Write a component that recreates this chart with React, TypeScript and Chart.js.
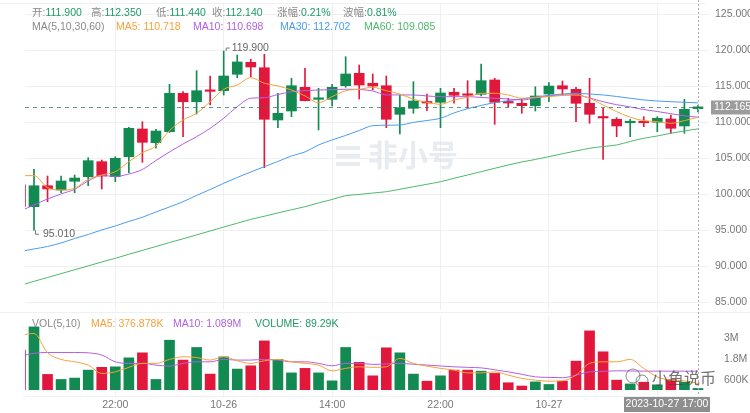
import React, { useEffect, useRef } from "react";
import { Chart, registerables } from "chart.js";

Chart.register(...registerables);

// ---------- data ----------
const OPEN = [101.3, 98.28, 101.19, 100.6, 101.81, 102.44, 104.53, 102.44, 105.22, 109.07, 107.17, 108.69, 114.03, 112.86, 114.44, 114.39, 116.67, 118.33, 117.58, 110.32, 111.57, 114.86, 113.19, 113.19, 115.08, 116.81, 115.42, 115.08, 111.11, 111.94, 112.86, 112.78, 114.17, 113.93, 113.89, 115.88, 112.86, 112.64, 112.31, 113.93, 115.08, 114.58, 112.64, 110.69, 110.42, 109.94, 110.08, 110.0, 110.46, 109.49, 111.9];
const HIGH = [101.6, 103.47, 102.54, 102.54, 102.68, 105.08, 104.76, 105.22, 109.3, 110.08, 109.03, 115.28, 114.25, 117.17, 116.43, 119.9, 119.35, 118.75, 119.44, 114.03, 116.11, 117.5, 114.72, 115.28, 119.11, 117.96, 116.71, 116.43, 113.79, 115.64, 113.93, 114.72, 114.72, 115.78, 118.1, 116.11, 113.33, 113.24, 114.94, 115.5, 115.74, 114.86, 116.11, 111.94, 110.64, 110.42, 110.78, 110.78, 111.01, 113.19, 112.35];
const LOW = [98.0, 95.01, 98.97, 100.22, 100.22, 101.19, 100.74, 101.75, 103.0, 104.44, 106.39, 108.6, 108.0, 111.15, 112.4, 113.79, 116.19, 116.33, 103.69, 109.25, 110.78, 112.96, 108.93, 112.26, 114.86, 113.24, 114.49, 109.25, 108.38, 111.25, 111.61, 109.25, 112.64, 111.94, 113.65, 109.72, 112.17, 111.25, 111.57, 112.86, 113.79, 110.08, 109.86, 104.86, 108.0, 108.0, 109.39, 108.69, 108.47, 108.47, 111.44];
const CLOSE = [98.3, 101.19, 100.74, 101.85, 102.26, 104.67, 102.54, 105.0, 109.17, 107.22, 108.79, 114.03, 112.86, 114.39, 114.3, 116.43, 118.38, 117.68, 110.42, 111.25, 115.08, 113.0, 113.33, 114.86, 116.71, 115.18, 115.04, 110.42, 112.03, 112.96, 112.68, 114.07, 113.75, 113.75, 115.78, 112.78, 112.68, 112.31, 113.65, 115.04, 114.63, 112.64, 111.11, 110.6, 109.49, 110.08, 109.94, 110.56, 109.17, 111.81, 112.14];

const MA5 = [102.59, 102.59, 100.92, 100.6, 100.84, 102.09, 102.68, 103.14, 104.53, 105.78, 106.71, 108.84, 110.32, 111.25, 112.86, 114.59, 115.18, 116.2, 115.42, 115.05, 114.49, 113.66, 112.73, 113.56, 114.39, 114.59, 114.86, 114.39, 113.93, 113.2, 112.78, 112.5, 113.1, 113.48, 114.03, 114.03, 113.8, 113.34, 113.45, 113.56, 113.73, 113.8, 113.34, 112.41, 111.48, 110.7, 110.23, 110.09, 109.86, 110.23, 110.718];
const MA10 = [97.68, 98.52, 99.35, 100.05, 100.7, 101.85, 102.61, 102.48, 102.82, 103.45, 104.7, 105.88, 106.99, 108.0, 109.17, 110.56, 112.17, 113.34, 113.42, 113.86, 114.25, 114.39, 114.49, 114.53, 114.59, 114.56, 114.35, 113.8, 113.8, 113.8, 113.66, 113.56, 113.56, 113.56, 113.45, 113.34, 113.24, 113.1, 113.38, 113.66, 113.8, 113.8, 113.38, 112.86, 112.45, 112.13, 111.78, 111.5, 111.19, 110.9, 110.698];
const MA30 = [92.06, 92.41, 92.75, 93.24, 93.86, 94.42, 95.05, 95.6, 96.23, 96.81, 97.55, 98.24, 98.98, 99.84, 100.67, 101.53, 102.34, 103.1, 103.84, 104.56, 105.32, 105.88, 106.85, 107.55, 108.17, 108.86, 109.53, 109.59, 109.63, 109.98, 110.25, 110.56, 111.3, 111.89, 112.34, 112.73, 113.0, 113.24, 113.52, 113.75, 113.93, 114.03, 113.93, 113.8, 113.59, 113.34, 113.1, 112.96, 112.86, 112.78, 112.702];
const MA60 = [87.36, 87.91, 88.45, 88.98, 89.52, 90.05, 90.6, 91.11, 91.67, 92.21, 92.75, 93.3, 93.82, 94.36, 94.91, 95.45, 95.98, 96.52, 96.95, 97.41, 97.85, 98.28, 98.8, 99.28, 99.81, 99.98, 100.18, 100.36, 100.7, 101.05, 101.39, 101.75, 102.23, 102.68, 103.14, 103.61, 104.07, 104.49, 104.84, 105.23, 105.63, 106.02, 106.39, 106.64, 106.85, 107.34, 107.78, 108.1, 108.48, 108.8, 109.085];

// volume in millions
const VOLUME = [2.31, 3.65, 0.9, 0.61, 0.69, 1.15, 1.31, 1.34, 1.86, 2.15, 0.61, 2.88, 1.73, 2.46, 0.92, 1.92, 1.21, 1.4, 2.84, 1.77, 0.99, 1.25, 0.99, 0.53, 2.46, 1.6, 0.82, 2.44, 2.15, 0.92, 0.51, 0.82, 1.15, 1.15, 1.09, 0.96, 0.42, 0.23, 0.47, 0.32, 0.51, 1.67, 3.42, 2.21, 0.57, 0.35, 0.45, 0.3, 0.6, 0.45, 0.08929];
const VOL_MA5 = [3.17, 3.27, 2.15, 1.77, 1.63, 1.44, 0.96, 1.05, 1.31, 1.54, 1.54, 1.77, 1.92, 1.88, 1.73, 1.92, 1.69, 1.54, 1.69, 1.77, 1.63, 1.54, 1.44, 1.11, 1.25, 1.34, 1.31, 1.34, 1.83, 1.54, 1.38, 1.25, 1.15, 0.99, 0.99, 1.05, 0.86, 0.67, 0.57, 0.51, 0.53, 0.86, 1.54, 1.63, 1.63, 1.77, 1.25, 0.76, 0.57, 0.53, 0.376878];
const VOL_MA10 = [1.96, 2.12, 2.17, 2.17, 2.17, 2.15, 2.02, 1.63, 1.54, 1.54, 1.44, 1.38, 1.54, 1.63, 1.63, 1.77, 1.73, 1.73, 1.77, 1.73, 1.63, 1.63, 1.54, 1.4, 1.54, 1.54, 1.48, 1.51, 1.54, 1.49, 1.44, 1.39, 1.34, 1.31, 1.28, 1.17, 1.05, 0.91, 0.76, 0.73, 0.71, 0.86, 1.05, 1.08, 1.11, 1.1, 1.09, 1.09, 1.09, 1.09, 1.089];

const X_TICK_INDEX = [7, 15, 23, 31, 39, 47];
const X_TICK_LABELS = ["22:00", "10-26", "14:00", "22:00", "10-27", "14:00"];
const PRICE_TICKS = [85, 90, 95, 100, 105, 110, 115, 120, 125];
const VOL_TICKS = [0.6, 1.8, 3];
const VOL_TICK_LABELS = ["600K", "1.8M", "3M"];
const LAST_PRICE = 112.165;
const CROSS_INDEX = 50;
const CROSS_LABEL = "2023-10-27 17:00";
const MAX_INDEX = 15;
const MIN_INDEX = 1;

// ---------- styles ----------
const UP = "#128a52";
const DOWN = "#e2173c";
const C_MA5 = "#f5a33a";
const C_MA10 = "#b15fe3";
const C_MA30 = "#4a9cf0";
const C_MA60 = "#4fb96a";
const GRID = "#eef0f3";
const TICK_COLOR = "#777";
const FONT = "'Liberation Sans', 'Noto Sans CJK SC', sans-serif";
const FS = 10.5;
const X_MIN = 0.336;
const X_MAX = 50.52;

const idx = CLOSE.map((_, i) => i);
const colors = CLOSE.map((c, i) => (c >= OPEN[i] ? UP : DOWN));

function lineDs(label: string, data: number[], color: string) {
  return {
    type: "line" as const,
    label,
    data: data.map((v, i) => ({ x: i, y: v })),
    borderColor: color,
    borderWidth: 1,
    pointRadius: 0,
    cubicInterpolationMode: "monotone" as const,
    order: 0,
  };
}

const xScaleBase = (showLabels: boolean) => ({
  type: "linear" as const,
  min: X_MIN,
  max: X_MAX,
  offset: false,
  afterBuildTicks: (s: any) => {
    s.ticks = X_TICK_INDEX.map((v) => ({ value: v }));
  },
  afterFit: (s: any) => {
    s.height = showLabels ? 23 : 0;
    s.paddingLeft = 0;
    s.paddingRight = 0;
  },
  border: { display: false },
  grid: {
    color: GRID,
    offset: false,
    drawTicks: showLabels,
    tickLength: 6,
  },
  ticks: {
    display: showLabels,
    autoSkip: false,
    maxRotation: 0,
    padding: 3,
    color: TICK_COLOR,
    font: { family: FONT, size: FS },
    callback: (v: number) => {
      const k = X_TICK_INDEX.indexOf(v);
      return k >= 0 ? X_TICK_LABELS[k] : "";
    },
  },
});

const pricePlugin = {
  id: "priceExtras",
  beforeDatasetsDraw(chart: any) {
    const { ctx, chartArea } = chart;
    ctx.save();
    ctx.strokeStyle = GRID;
    ctx.lineWidth = 1;
    ctx.beginPath();
    ctx.moveTo(0, chartArea.top + 0.5);
    ctx.lineTo(chartArea.right, chartArea.top + 0.5);
    ctx.stroke();
    // watermark
    ctx.fillStyle = "rgba(205,212,224,0.45)";
    const wx = 336, wy = 156;
    for (let k = 0; k < 3; k++) {
      ctx.fillRect(wx, wy - 10 + k * 8, 24, 4);
    }
    ctx.font = "bold 30px 'Noto Sans CJK SC'";
    ctx.textBaseline = "middle";
    ctx.fillText("非小号", wx + 32, wy - 1);
    ctx.restore();
  },
  afterDatasetsDraw(chart: any) {
    const { ctx, chartArea, scales } = chart;
    const x = scales.x, y = scales.y;
    ctx.save();
    const py = Math.round(y.getPixelForValue(LAST_PRICE)) + 0.5;
    ctx.strokeStyle = "rgba(40,120,85,0.75)";
    ctx.setLineDash([4, 4]);
    ctx.lineWidth = 1;
    ctx.beginPath();
    ctx.moveTo(chartArea.left, py);
    ctx.lineTo(chartArea.right, py);
    ctx.stroke();
    const cx = Math.round(x.getPixelForValue(CROSS_INDEX)) + 0.5;
    ctx.strokeStyle = "#aaa";
    ctx.setLineDash([2, 2]);
    ctx.beginPath();
    ctx.moveTo(cx, 0);
    ctx.lineTo(cx, chart.height);
    ctx.stroke();
    ctx.setLineDash([]);
    ctx.strokeStyle = "#777";
    ctx.fillStyle = "#666";
    ctx.font = `${FS}px ${FONT}`;
    ctx.textBaseline = "middle";
    const hx = x.getPixelForValue(MAX_INDEX), hy = y.getPixelForValue(HIGH[MAX_INDEX]);
    ctx.beginPath();
    ctx.moveTo(hx + 2.5, hy);
    ctx.lineTo(hx + 2.5, hy - 3);
    ctx.lineTo(hx + 6, hy - 3);
    ctx.stroke();
    ctx.fillText(HIGH[MAX_INDEX].toFixed(3), hx + 8, hy - 3);
    const lx = x.getPixelForValue(MIN_INDEX), ly = y.getPixelForValue(LOW[MIN_INDEX]);
    ctx.beginPath();
    ctx.moveTo(lx + 1.5, ly);
    ctx.lineTo(lx + 1.5, ly + 4);
    ctx.lineTo(lx + 5, ly + 4);
    ctx.stroke();
    ctx.fillText(LOW[MIN_INDEX].toFixed(3), lx + 9, ly + 4);
    ctx.fillStyle = "#9c9c9c";
    ctx.fillRect(chartArea.right + 6, py - 7, chart.width - chartArea.right - 6, 14);
    ctx.fillStyle = "#fff";
    ctx.textAlign = "left";
    ctx.fillText(LAST_PRICE.toFixed(3), chartArea.right + 9, py);
    ctx.restore();
  },
};

const volPlugin = {
  id: "volExtras",
  afterDatasetsDraw(chart: any) {
    const { ctx, chartArea, scales } = chart;
    const x = scales.x;
    ctx.save();
    ctx.strokeStyle = GRID;
    ctx.lineWidth = 1;
    ctx.beginPath();
    ctx.moveTo(0, 0.5);
    ctx.lineTo(chart.width, 0.5);
    ctx.moveTo(chartArea.left, chartArea.bottom + 6.5);
    ctx.lineTo(chartArea.right, chartArea.bottom + 6.5);
    ctx.stroke();
    const cx = Math.round(x.getPixelForValue(CROSS_INDEX)) + 0.5;
    ctx.strokeStyle = "#aaa";
    ctx.setLineDash([2, 2]);
    ctx.beginPath();
    ctx.moveTo(cx, 0);
    ctx.lineTo(cx, chartArea.bottom + 6);
    ctx.stroke();
    ctx.setLineDash([]);
    ctx.font = "16px 'Noto Sans CJK SC'";
    ctx.fillStyle = "rgba(70,70,70,0.75)";
    ctx.textBaseline = "middle";
    ctx.fillText("小鱼说币", 652, chartArea.bottom - 12);
    ctx.strokeStyle = "rgba(90,90,90,0.7)";
    ctx.beginPath();
    ctx.arc(633, chartArea.bottom - 14, 7, 0, Math.PI * 2);
    ctx.stroke();
    ctx.beginPath();
    ctx.arc(642, chartArea.bottom - 9, 6, 0, Math.PI * 2);
    ctx.stroke();
    ctx.font = `${FS}px ${FONT}`;
    const w = 86;
    const right = chartArea.right + 5;
    const left = Math.min(cx - w / 2, right - w);
    ctx.fillStyle = "#8e8e8e";
    ctx.fillRect(left, chartArea.bottom + 7, w, 15);
    ctx.fillStyle = "#fff";
    ctx.textAlign = "center";
    ctx.fillText(CROSS_LABEL, left + w / 2, chartArea.bottom + 14.5);
    ctx.restore();
  },
};

const commonOpts = {
  responsive: false,
  animation: false as const,
  devicePixelRatio: 1,
  events: [] as any[],
  plugins: { legend: { display: false }, tooltip: { enabled: false } },
};

function Txt(props: { x: number; y: number; color: string; children: React.ReactNode }) {
  return (
    <span
      style={{
        position: "absolute",
        left: props.x,
        top: props.y,
        color: props.color,
        fontSize: FS,
        lineHeight: "14px",
        whiteSpace: "nowrap",
        fontFamily: FONT,
      }}
    >
      {props.children}
    </span>
  );
}

export default function App() {
  const priceRef = useRef<HTMLCanvasElement>(null);
  const volRef = useRef<HTMLCanvasElement>(null);

  useEffect(() => {
    const price = new Chart(priceRef.current as HTMLCanvasElement, {
      type: "bar",
      data: {
        datasets: [
          lineDs("MA5", MA5, C_MA5),
          lineDs("MA10", MA10, C_MA10),
          lineDs("MA30", MA30, C_MA30),
          lineDs("MA60", MA60, C_MA60),
          {
            type: "bar",
            label: "body",
            data: idx.map((i) => ({ x: i, y: [OPEN[i], CLOSE[i]] })) as any,
            backgroundColor: colors,
            barThickness: 10,
            minBarLength: 1.5,
            grouped: false,
            order: 1,
          },
          {
            type: "bar",
            label: "wick",
            data: idx.map((i) => ({ x: i, y: [LOW[i], HIGH[i]] })) as any,
            backgroundColor: colors,
            barThickness: 1,
            grouped: false,
            order: 2,
          },
        ] as any,
      },
      options: {
        ...commonOpts,
        layout: { padding: { left: 25, top: 3, bottom: 2, right: 0 } },
        scales: {
          x: xScaleBase(false) as any,
          y: {
            type: "linear",
            position: "right",
            min: 83.93,
            max: 126.57,
            afterBuildTicks: (s: any) => {
              s.ticks = PRICE_TICKS.map((v) => ({ value: v }));
            },
            afterFit: (s: any) => {
              s.width = 45;
              s.paddingTop = 0;
              s.paddingBottom = 0;
            },
            border: { display: false },
            grid: { color: GRID, drawTicks: true, tickLength: 4 },
            ticks: {
              padding: 6,
              color: TICK_COLOR,
              font: { family: FONT, size: FS },
              callback: (v: any) => Number(v).toFixed(3),
            },
          },
        },
      } as any,
      plugins: [pricePlugin],
    });

    const vol = new Chart(volRef.current as HTMLCanvasElement, {
      type: "bar",
      data: {
        datasets: [
          lineDs("VMA5", VOL_MA5, C_MA5),
          lineDs("VMA10", VOL_MA10, C_MA10),
          {
            type: "bar",
            label: "volume",
            data: idx.map((i) => ({ x: i, y: VOLUME[i] })) as any,
            backgroundColor: colors,
            barThickness: 10,
            grouped: false,
            order: 1,
          },
        ] as any,
      },
      options: {
        ...commonOpts,
        layout: { padding: { left: 25, top: 4, bottom: 0, right: 0 } },
        scales: {
          x: xScaleBase(true) as any,
          y: {
            type: "linear",
            position: "right",
            min: 0,
            max: 4.28,
            afterBuildTicks: (s: any) => {
              s.ticks = VOL_TICKS.map((v) => ({ value: v }));
            },
            afterFit: (s: any) => {
              s.width = 45;
              s.paddingTop = 0;
              s.paddingBottom = 0;
            },
            border: { display: false },
            grid: { display: false },
            ticks: {
              padding: 11,
              color: TICK_COLOR,
              font: { family: FONT, size: FS },
              callback: (v: any) => {
                const k = VOL_TICKS.indexOf(Number(v));
                return k >= 0 ? VOL_TICK_LABELS[k] : "";
              },
            },
          },
        },
      } as any,
      plugins: [volPlugin],
    });

    return () => {
      price.destroy();
      vol.destroy();
    };
  }, []);

  const last = CLOSE.length - 1;
  const chg = ((CLOSE[last] - OPEN[last]) / OPEN[last]) * 100;
  const amp = ((HIGH[last] - LOW[last]) / OPEN[last]) * 100;
  const GRAY = "#8a8a8a";
  const VAL = "#1e9a62";
  const head1 = [
    { l: "开:", v: OPEN[last].toFixed(3), x: 32 },
    { l: "高:", v: HIGH[last].toFixed(3), x: 91 },
    { l: "低:", v: LOW[last].toFixed(3), x: 156 },
    { l: "收:", v: CLOSE[last].toFixed(3), x: 212 },
    { l: "涨幅:", v: chg.toFixed(2) + "%", x: 277 },
    { l: "波幅:", v: amp.toFixed(2) + "%", x: 343 },
  ];

  return (
    <div
      style={{
        position: "fixed",
        left: 0,
        top: 0,
        width: 750,
        height: 413,
        background: "#fff",
        overflow: "hidden",
      }}
    >
      <canvas ref={priceRef} width={750} height={312} style={{ position: "absolute", left: 0, top: 0, width: 750, height: 312 }} />
      <canvas ref={volRef} width={750} height={101} style={{ position: "absolute", left: 0, top: 312, width: 750, height: 101 }} />
      {head1.map((h) => (
        <Txt key={h.l} x={h.x} y={5} color={GRAY}>
          {h.l}
          <span style={{ color: VAL }}>{h.v}</span>
        </Txt>
      ))}
      <Txt x={32} y={19} color={GRAY}>MA(5,10,30,60)</Txt>
      <Txt x={116} y={19} color={C_MA5}>{"MA5: " + MA5[last].toFixed(3)}</Txt>
      <Txt x={193} y={19} color={C_MA10}>{"MA10: " + MA10[last].toFixed(3)}</Txt>
      <Txt x={280} y={19} color={C_MA30}>{"MA30: " + MA30[last].toFixed(3)}</Txt>
      <Txt x={364} y={19} color={C_MA60}>{"MA60: " + MA60[last].toFixed(3)}</Txt>
      <Txt x={32} y={316} color={GRAY}>VOL(5,10)</Txt>
      <Txt x={91} y={316} color={C_MA5}>{"MA5: " + (VOL_MA5[last] * 1000).toFixed(3) + "K"}</Txt>
      <Txt x={173} y={316} color={C_MA10}>{"MA10: " + VOL_MA10[last].toFixed(3) + "M"}</Txt>
      <Txt x={255} y={316} color={VAL}>{"VOLUME: " + (VOLUME[last] * 1000).toFixed(2) + "K"}</Txt>
    </div>
  );
}
